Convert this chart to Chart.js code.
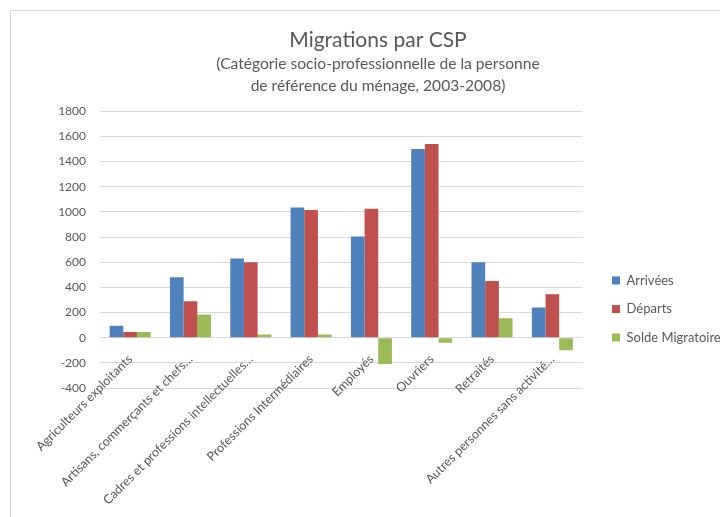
<!DOCTYPE html>
<html>
<head>
    <title>Migrations par CSP</title>
    <script src="https://cdn.jsdelivr.net/npm/chart.js"></script>
    <style>
        body {
            margin: 0;
            background-color: #ffffff;
            overflow: hidden;
            width: 720px;
            height: 517px;
            position: relative;
        }
        .frame {
            position: absolute;
            left: 10px;
            top: 10px;
            width: 760px;
            height: 560px;
            border: 1px solid #d9d9d9;
        }
        .chart-container {
            position: absolute;
            left: 0;
            top: 0;
            width: 730px;
            height: 517px;
        }
    </style>
</head>
<body>
    <div class="frame"></div>
    <div class="chart-container">
        <canvas id="cspChart"></canvas>
    </div>

    <script>
        var categories = [
            'Agriculteurs exploitants',
            'Artisans, commerçants et chefs…',
            'Cadres et professions intellectuelles…',
            'Professions Intermédiaires',
            'Employés',
            'Ouvriers',
            'Retraités',
            'Autres personnes sans activité…'
        ];
        var arrivees = [95, 480, 630, 1035, 805, 1500, 600, 240];
        var departs = [45, 290, 600, 1015, 1025, 1540, 450, 345];
        var solde = [45, 185, 25, 25, -210, -40, 155, -100];

        var textColor = '#595959';
        var fontFamily = 'Lato, "Open Sans", sans-serif';

        var ctx = document.getElementById('cspChart').getContext('2d');
        var chart = new Chart(ctx, {
            type: 'bar',
            data: {
                labels: categories,
                datasets: [
                    { label: 'Arrivées', data: arrivees, backgroundColor: '#4f81bd' },
                    { label: 'Départs', data: departs, backgroundColor: '#c0504d' },
                    { label: 'Solde Migratoire', data: solde, backgroundColor: '#9bbb59' }
                ]
            },
            options: {
                responsive: true,
                maintainAspectRatio: false,
                animation: false,
                datasets: {
                    bar: {
                        categoryPercentage: 0.68,
                        barPercentage: 1.0
                    }
                },
                layout: {
                    padding: { top: 0, left: 35.5, right: 9.5, bottom: 129 }
                },
                plugins: {
                    title: {
                        display: true,
                        text: 'Migrations par CSP',
                        color: textColor,
                        font: { family: fontFamily, size: 21, weight: 'normal' },
                        padding: { top: 28, bottom: 0 }
                    },
                    subtitle: {
                        display: true,
                        text: ['(Catégorie socio-professionnelle de la personne', 'de référence du ménage, 2003-2008)'],
                        color: textColor,
                        font: { family: fontFamily, size: 15.6, weight: 'normal', lineHeight: 1.38 },
                        padding: { top: 0, bottom: 15 }
                    },
                    legend: {
                        position: 'right',
                        align: 'start',
                        maxWidth: 124,
                        title: {
                            display: true,
                            text: ' ',
                            font: { family: fontFamily, size: 12 },
                            padding: { top: 244, bottom: 0 }
                        },
                        labels: {
                            boxWidth: 8,
                            boxHeight: 8,
                            padding: 15.5,
                            color: textColor,
                            font: { family: fontFamily, size: 13 }
                        }
                    },
                    tooltip: { enabled: false }
                },
                scales: {
                    x: {
                        position: { y: 0 },
                        grid: { display: false },
                        border: { display: false },
                        ticks: {
                            autoSkip: false,
                            minRotation: 45,
                            maxRotation: 45,
                            padding: 6,
                            color: textColor,
                            font: { family: fontFamily, size: 12.5 }
                        }
                    },
                    y: {
                        min: -400,
                        max: 1800,
                        border: { display: false },
                        grid: { color: '#d9d9d9', lineWidth: 1, drawTicks: false },
                        ticks: {
                            stepSize: 200,
                            padding: 14,
                            color: textColor,
                            font: { family: fontFamily, size: 12 },
                            callback: function(value) { return String(value); }
                        },
                        afterFit: function(scale) { scale.width = 64.5; }
                    },
                    gap: {
                        position: 'right',
                        display: true,
                        grid: { display: false },
                        border: { display: false },
                        ticks: { display: false },
                        afterFit: function(scale) { scale.width = 14; }
                    }
                }
            }
        });
    </script>
</body>
</html>
